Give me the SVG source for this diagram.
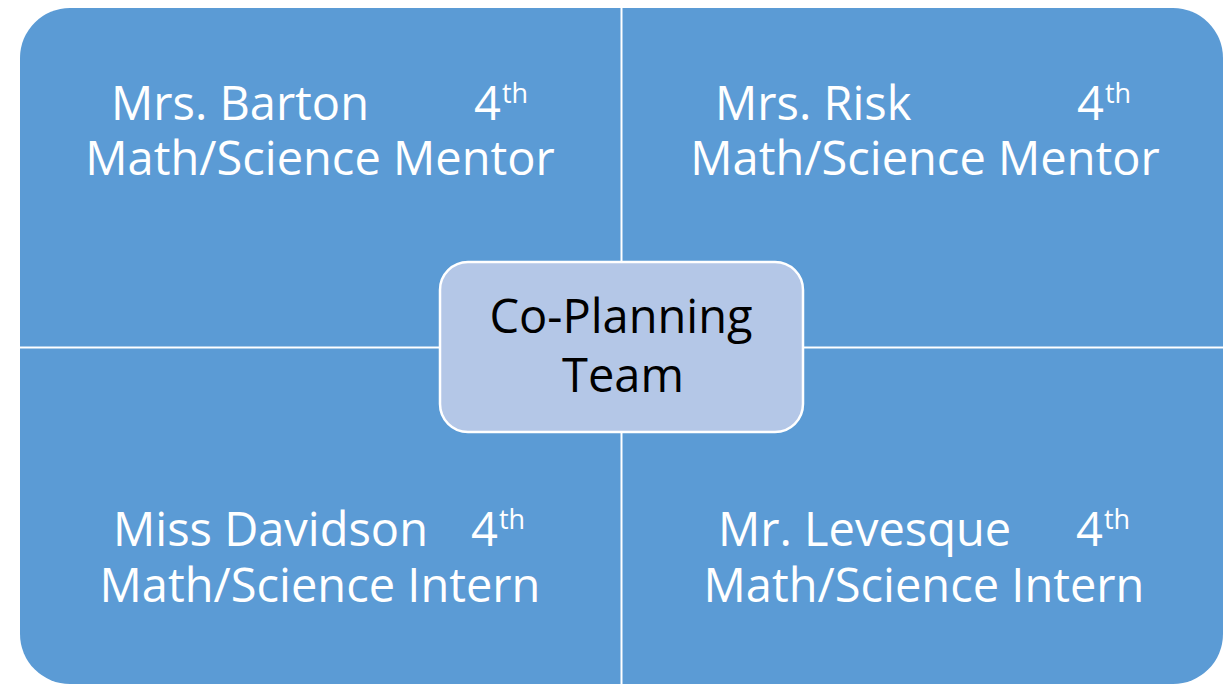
<svg xmlns="http://www.w3.org/2000/svg" width="1223" height="684" viewBox="0 0 1223 684">
  <style>
    .quad { fill: #5B9BD5; }
    .wt { font-family: "Open Sans", "Noto Sans", "Liberation Sans", sans-serif; font-size: 47px; fill: #FFFFFF; }
    .sup { font-size: 27px; }
    .bt { font-family: "Open Sans", "Noto Sans", "Liberation Sans", sans-serif; font-size: 47px; fill: #000000; }
    .center { fill: #B4C7E7; stroke: #FFFFFF; stroke-width: 2.5; }
  </style>
  <rect x="0" y="0" width="1223" height="684" fill="#FFFFFF"/>
  <g id="q1">
    <path class="quad" d="M20,58 A50,50 0 0 1 70,8 L620.5,8 L620.5,346.5 L20,346.5 Z"/>
    <text class="wt"><tspan x="111" y="120">Mrs. Barton</tspan><tspan x="474" y="120">4</tspan><tspan class="sup" x="502" y="103">th</tspan><tspan x="320" y="175" text-anchor="middle">Math/Science Mentor</tspan></text>
  </g>
  <g id="q2">
    <path class="quad" d="M622.5,8 L1173,8 A50,50 0 0 1 1223,58 L1223,346.5 L622.5,346.5 Z"/>
    <text class="wt"><tspan x="715" y="120">Mrs. Risk</tspan><tspan x="1077" y="120">4</tspan><tspan class="sup" x="1105" y="103">th</tspan><tspan x="925" y="175" text-anchor="middle">Math/Science Mentor</tspan></text>
  </g>
  <g id="q3">
    <path class="quad" d="M20,348.5 L620.5,348.5 L620.5,684 L70,684 A50,50 0 0 1 20,634 Z"/>
    <text class="wt"><tspan x="113" y="546">Miss Davidson</tspan><tspan x="471" y="546">4</tspan><tspan class="sup" x="499" y="529">th</tspan><tspan x="320" y="602" text-anchor="middle">Math/Science Intern</tspan></text>
  </g>
  <g id="q4">
    <path class="quad" d="M622.5,348.5 L1223,348.5 L1223,634 A50,50 0 0 1 1173,684 L622.5,684 Z"/>
    <text class="wt"><tspan x="718" y="546">Mr. Levesque</tspan><tspan x="1076" y="546">4</tspan><tspan class="sup" x="1104" y="529">th</tspan><tspan x="924" y="602" text-anchor="middle">Math/Science Intern</tspan></text>
  </g>
  <g id="connectors"></g>
  <g id="hub">
    <rect class="center" x="440" y="262" width="363" height="170" rx="28" ry="28"/>
    <text class="bt"><tspan x="621" y="333" text-anchor="middle">Co-Planning</tspan><tspan x="623" y="392" text-anchor="middle">Team</tspan></text>
  </g>
</svg>
